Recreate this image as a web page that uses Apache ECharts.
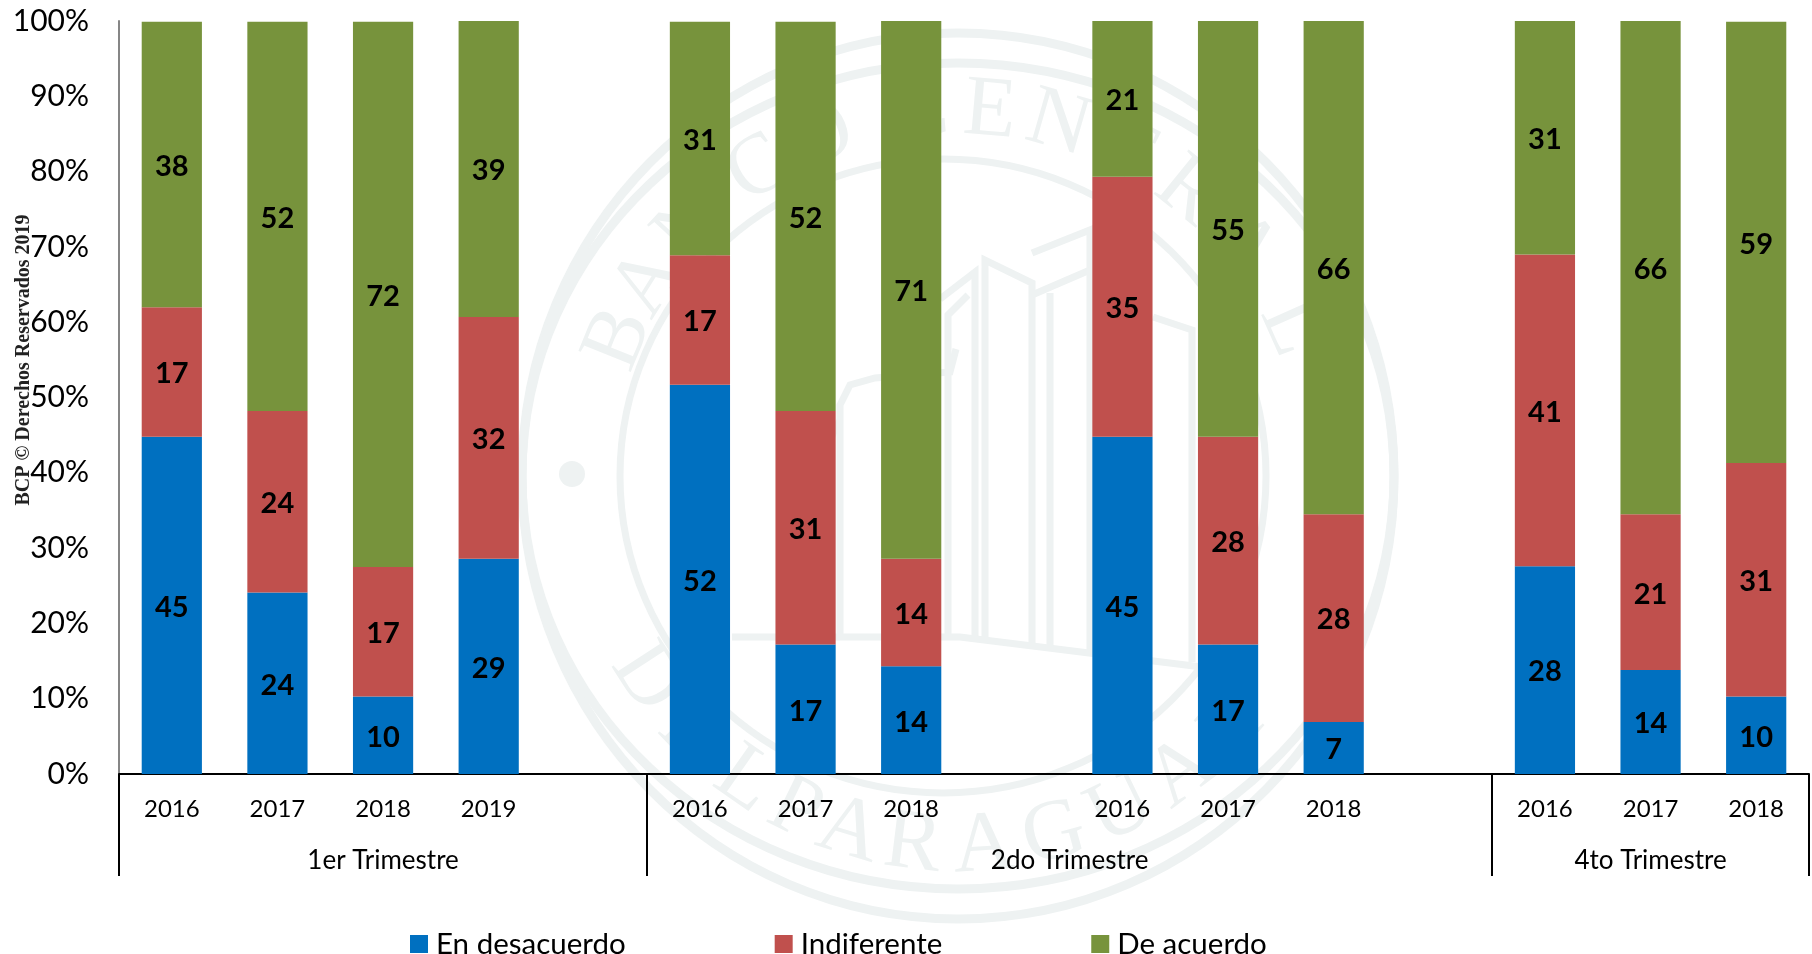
<!DOCTYPE html>
<html><head><meta charset="utf-8">
<style>html,body{margin:0;padding:0;background:#fff}#c{width:1812px;height:954px}</style>
<script src="https://cdn.jsdelivr.net/npm/echarts@6/dist/echarts.min.js"></script>
</head><body><div id="c"></div>
<script>
const years = ['2016','2017','2018','2019','','2016','2017','2018','','2016','2017','2018','','2016','2017','2018'];
const enDesacuerdo = [44.8,24.1,10.3,28.6,null,51.7,17.2,14.3,null,44.8,17.2,6.9,null,27.6,13.8,10.3];
const indiferente  = [17.2,24.1,17.2,32.1,null,17.2,31.0,14.3,null,34.5,27.6,27.6,null,41.4,20.7,31.0];
const deAcuerdo    = [37.9,51.7,72.4,39.3,null,31.0,51.7,71.4,null,20.7,55.2,65.5,null,31.0,65.5,58.6];
const groupNames = ['1er Trimestre','2do Trimestre','4to Trimestre'];
const groupEdges = [0,5,13,16];
const groupCentres = [2.5,9,14.5];

const FONT = 'Lato';
const seal = '#eef2f2';
const cx = 958, cy = 476;
const wm = [];
[[958,436,443,9],[958,436,413,9],[943,323,317,7]].forEach(r => wm.push({
  type:'ellipse', shape:{cx:r[0],cy:cy,rx:r[1],ry:r[2]},
  style:{fill:'none',stroke:seal,lineWidth:r[3]}, z:0
}));
const letter = (ch,deg,top) => {
  const R = top ? 365 : 372;
  const a = deg*Math.PI/180;
  const x = cx + R*Math.sin(a);
  const y = top ? cy - R*Math.cos(a) : cy + R*Math.cos(a);
  wm.push({type:'text',x:x,y:y,rotation:(top?-deg:deg)*Math.PI/180,z:0,
    style:{text:ch,fill:seal,font:'86px "Liberation Serif"',align:'center',verticalAlign:'middle'}});
};
[['B',-68],['A',-58],['N',-47],['C',-33],['O',-22],['C',-6],['E',5],['N',16],['T',27],['R',39],['A',51],['L',66]]
  .forEach(l=>letter(l[0],l[1],true));
[['D',-57],['E',-46],['L',-35],['P',-26],['A',-17],['R',-7],['A',4],['G',15],['U',26],['A',37],['Y',49]]
  .forEach(l=>letter(l[0],l[1],false));
[
  [[840,640],[840,405],[850,385],[875,378],[950,372],[956,349]],
  [[815,640],[815,470],[840,420]],
  [[940,299],[975,272],[975,640]],
  [[948,640],[948,315],[968,295]],
  [[985,640],[985,260],[1032,283],[1032,645]],
  [[1032,253],[1090,230],[1090,650]],
  [[1032,295],[1090,270]],
  [[1050,645],[1050,293]],
  [[1153,317],[1192,330],[1192,662]],
  [[732,637],[960,637],[1210,668]]
].forEach(p=>wm.push({type:'polyline',shape:{points:p},style:{fill:'none',stroke:seal,lineWidth:7},z:0}));
wm.push({type:'circle',shape:{cx:572,cy:474,r:13},style:{fill:seal},z:0});
wm.push({type:'text',x:24,y:360,rotation:Math.PI/2,z:50,
  style:{text:'BCP © Derechos Reservados 2019',fill:'#222',font:'bold 20px "Liberation Serif"',align:'center',verticalAlign:'middle'}});

const barLabel = {show:true,position:'inside',offset:[0,2],color:'#000',fontFamily:FONT,fontSize:29,fontWeight:'bold',
  formatter:p=>p.value==null?'':String(Math.round(p.value))};
const mk = (name,data,color)=>({name,type:'bar',stack:'t',data,barWidth:'57%',itemStyle:{color},label:barLabel,z:2});

const chart = echarts.init(document.getElementById('c'),null,{renderer:'canvas'});
chart.setOption({
  animation:false,
  backgroundColor:'#fff',
  textStyle:{fontFamily:FONT},
  graphic:wm,
  grid:{left:119,right:3,top:21,bottom:180,containLabel:false},
  legend:{left:410,top:929,padding:0,itemWidth:18,itemHeight:18,itemGap:149,icon:'rect',
    textStyle:{fontFamily:FONT,fontSize:29.5,color:'#000',padding:[0,0,0,3]},
    data:['En desacuerdo','Indiferente','De acuerdo']},
  xAxis:[
    {type:'category',data:years,position:'bottom',
     axisLine:{show:true,onZero:false,lineStyle:{color:'#000',width:2}},
     axisTick:{show:false},
     axisLabel:{interval:0,margin:23,color:'#000',fontFamily:FONT,fontSize:24}},
    {type:'value',min:0,max:16,position:'bottom',splitLine:{show:false},
     axisLine:{show:false},
     axisTick:{show:true,length:102,customValues:groupEdges,lineStyle:{color:'#000',width:2}},
     axisLabel:{show:true,customValues:groupCentres,margin:74,color:'#000',fontFamily:FONT,fontSize:26,
       formatter:v=>groupNames[groupCentres.indexOf(v)]||''}}
  ],
  yAxis:{type:'value',min:0,max:100,interval:10,
    axisLine:{show:true,lineStyle:{color:'#868686',width:2}},axisTick:{show:false},splitLine:{show:false},
    axisLabel:{formatter:'{value}%',margin:30,color:'#000',fontFamily:FONT,fontSize:30}},
  series:[
    mk('En desacuerdo',enDesacuerdo,'#0070C0'),
    mk('Indiferente',indiferente,'#C0504D'),
    mk('De acuerdo',deAcuerdo,'#77933C')
  ]
});
</script></body></html>
